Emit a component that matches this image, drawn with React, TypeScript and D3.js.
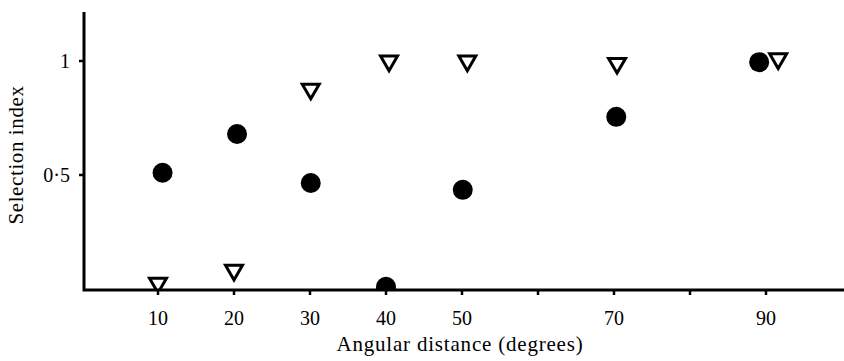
import React from "react";
import * as d3 from "d3";

// Selection index vs angular distance
const circleX = [10.6, 20.4, 30.1, 40, 50.1, 70.3, 89.1];
const circleY = [0.51, 0.68, 0.465, 0.01, 0.435, 0.755, 0.995];

const triangleX = [10, 20, 30.1, 40.4, 50.7, 70.4, 91.6];
const triangleY = [0.026, 0.083, 0.877, 1.0, 1.0, 0.99, 1.01];

const xTicks = [10, 20, 30, 40, 50, 60, 70, 80, 90];
const xTickLabels = ["10", "20", "30", "40", "50", "", "70", "", "90"];
const yTicks = [0.5, 1];
const yTickLabels = ["0·5", "1"];

const W = 844;
const H = 361;
const axisX = 84;
const axisY = 290;
const font = "'Liberation Serif', 'Times New Roman', serif";

const App: React.FC = () => {
  const x = d3.scaleLinear().domain([0, 100]).range([82, 842]);
  const y = d3.scaleLinear().domain([0, 1]).range([289, 61]);

  const tri = d3.symbol().type(d3.symbolTriangle).size(125)();

  return (
    <svg
      width={W}
      height={H}
      style={{ position: "fixed", left: 0, top: 0, background: "#fff" }}
    >
      <defs>
        <clipPath id="plot">
          <rect x={axisX} y={0} width={W - axisX} height={axisY} />
        </clipPath>
      </defs>

      {/* points */}
      <g clipPath="url(#plot)">
        {circleX.map((d, i) => (
          <circle key={"c" + i} cx={x(d)} cy={y(circleY[i])} r={10} fill="#000" />
        ))}
        {triangleX.map((d, i) => (
          <path
            key={"t" + i}
            d={tri || ""}
            transform={`translate(${x(d)},${y(triangleY[i])}) rotate(180)`}
            fill="#fff"
            stroke="#000"
            strokeWidth={3}
            strokeLinejoin="miter"
          />
        ))}
      </g>

      {/* axes */}
      <path
        d={`M${axisX},12 V${axisY} H${W}`}
        fill="none"
        stroke="#000"
        strokeWidth={3}
      />
      {xTicks.map((t) => (
        <line key={"xt" + t} x1={x(t)} x2={x(t)} y1={axisY} y2={axisY + 5} stroke="#000" strokeWidth={2.5} />
      ))}
      {xTicks.map((t, i) => (
        <text
          key={"xl" + t}
          x={x(t)}
          y={325}
          textAnchor="middle"
          fontFamily={font}
          fontSize={20}
          fill="#000"
        >
          {xTickLabels[i]}
        </text>
      ))}
      {yTicks.map((t, i) => (
        <g key={"yt" + t}>
          <line x1={axisX - 5} x2={axisX} y1={y(t)} y2={y(t)} stroke="#000" strokeWidth={2.5} />
          <text
            x={70}
            y={y(t) + 7}
            textAnchor="end"
            fontFamily={font}
            fontSize={20}
            fill="#000"
          >
            {yTickLabels[i]}
          </text>
        </g>
      ))}

      {/* axis titles */}
      <text
        x={460}
        y={351}
        textAnchor="middle"
        fontFamily={font}
        fontSize={21}
        letterSpacing={0.8}
        fill="#000"
      >
        Angular distance (degrees)
      </text>
      <text
        transform={`translate(23,155) rotate(-90)`}
        textAnchor="middle"
        fontFamily={font}
        fontSize={21}
        letterSpacing={0.6}
        fill="#000"
      >
        Selection index
      </text>
    </svg>
  );
};

export default App;
